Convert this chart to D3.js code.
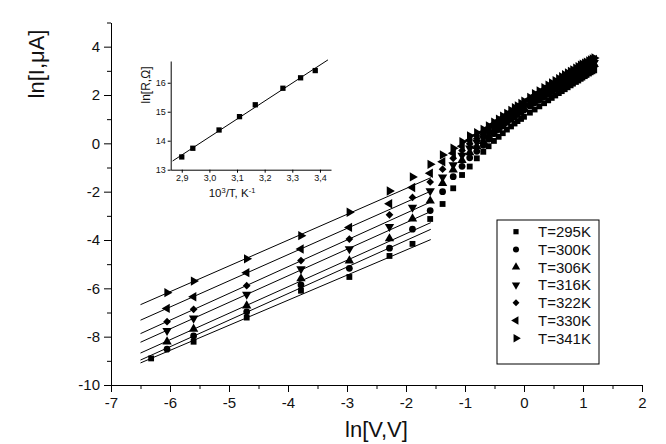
<!DOCTYPE html>
<html>
<head>
<meta charset="utf-8">
<script src="https://cdn.jsdelivr.net/npm/d3@7"></script>
<style>
  body { margin: 0; background: #fff; }
  text { font-family: Arial, "Liberation Sans", sans-serif; fill: #111; }
</style>
</head>
<body>
<svg id="chart" width="666" height="444"></svg>
<script>
// ln V grid shared by all temperature series
const lnV = [-6.32, -6.05, -5.6, -4.7, -3.78, -2.96, -2.28, -1.89, -1.59, -1.38, -1.2, -1.05, -0.92, -0.8,
  -0.69, -0.6, -0.51, -0.43, -0.36, -0.29, -0.22, -0.16, -0.11, -0.05,
  0, 0.1, 0.18, 0.26, 0.34, 0.41, 0.47, 0.53, 0.59, 0.64, 0.69, 0.74,
  0.79, 0.83, 0.88, 0.92, 0.96, 0.99, 1.03, 1.06, 1.1, 1.13, 1.16, 1.19];

const seriesNames = ["T=295K", "T=300K", "T=306K", "T=316K", "T=322K", "T=330K", "T=341K"];

const lnI295 = [-8.9, null, -8.21, -7.21, -6.1, -5.53, -4.66, -4.16, -3.13, -2.51, -1.86, -1.31, -0.96, -0.62,
  -0.35, -0.12, 0.1, 0.27, 0.42, 0.57, 0.7, 0.82, 0.92, 1.01,
  1.1, 1.27, 1.4, 1.53, 1.66, 1.78, 1.88, 1.98, 2.08, 2.16, 2.24, 2.32,
  2.4, 2.47, 2.54, 2.6, 2.67, 2.72, 2.78, 2.83, 2.89, 2.94, 2.98, 3.02];
const lnI300 = [null, -8.52, -7.97, -6.97, -5.86, -5.17, -4.34, -3.55, -2.78, -2.0, -1.38, -0.95, -0.6, -0.33,
  -0.08, 0.17, 0.4, 0.57, 0.72, 0.87, 1.0, 1.11, 1.2, 1.29,
  1.38, 1.55, 1.68, 1.8, 1.93, 2.04, 2.14, 2.23, 2.32, 2.4, 2.48, 2.55,
  2.62, 2.68, 2.75, 2.81, 2.87, 2.92, 2.97, 3.02, 3.08, 3.12, 3.16, 3.2];
const lnI306 = [null, -8.21, -7.68, -6.72, -5.6, -4.86, -3.94, -3.12, -2.38, -1.65, -1.1, -0.7, -0.38, -0.12,
  0.08, 0.31, 0.52, 0.68, 0.82, 0.96, 1.08, 1.19, 1.28, 1.37,
  1.46, 1.63, 1.76, 1.88, 2.01, 2.12, 2.22, 2.31, 2.4, 2.48, 2.56, 2.63,
  2.7, 2.76, 2.83, 2.89, 2.95, 2.99, 3.04, 3.09, 3.15, 3.19, 3.23, 3.27];
const lnI316 = [null, -7.75, -7.24, -6.25, -5.2, -4.37, -3.45, -2.65, -1.97, -1.4, -0.89, -0.5, -0.2, 0.05,
  0.22, 0.43, 0.63, 0.78, 0.92, 1.05, 1.17, 1.28, 1.37, 1.46,
  1.55, 1.71, 1.84, 1.96, 2.09, 2.2, 2.3, 2.39, 2.48, 2.56, 2.64, 2.71,
  2.78, 2.84, 2.91, 2.97, 3.02, 3.06, 3.11, 3.16, 3.22, 3.26, 3.3, 3.34];
const lnI322 = [null, -7.38, -6.87, -5.89, -4.85, -3.96, -2.96, -2.24, -1.6, -1.07, -0.62, -0.3, -0.02, 0.2,
  0.36, 0.54, 0.72, 0.86, 1.0, 1.13, 1.25, 1.36, 1.45, 1.54,
  1.63, 1.79, 1.92, 2.04, 2.16, 2.27, 2.37, 2.46, 2.55, 2.63, 2.71, 2.78,
  2.85, 2.91, 2.98, 3.04, 3.09, 3.13, 3.18, 3.23, 3.29, 3.33, 3.37, 3.41];
const lnI330 = [null, -6.83, -6.35, -5.35, -4.37, -3.48, -2.5, -1.83, -1.24, -0.76, -0.41, -0.12, 0.13, 0.33,
  0.47, 0.64, 0.8, 0.94, 1.06, 1.18, 1.3, 1.41, 1.5, 1.59,
  1.68, 1.84, 1.98, 2.1, 2.23, 2.34, 2.43, 2.52, 2.61, 2.69, 2.77, 2.84,
  2.91, 2.97, 3.04, 3.1, 3.16, 3.2, 3.25, 3.29, 3.35, 3.39, 3.43, 3.47];
const lnI341 = [null, -6.18, -5.7, -4.78, -3.82, -2.85, -1.97, -1.39, -0.87, -0.48, -0.2, 0.07, 0.31, 0.44,
  0.57, 0.72, 0.87, 1.0, 1.12, 1.24, 1.36, 1.47, 1.55, 1.65,
  1.74, 1.9, 2.05, 2.17, 2.3, 2.41, 2.5, 2.59, 2.68, 2.76, 2.84, 2.91,
  2.98, 3.04, 3.11, 3.17, 3.23, 3.27, 3.32, 3.36, 3.41, 3.45, 3.49, 3.53];

// the first points of each series are the ohmic part fitted by straight lines
const ohmicCount = 6;
const fitRange = [-6.5, -1.58];

const xTickValues = [-7, -6, -5, -4, -3, -2, -1, 0, 1, 2];
const xMinorValues = [-6.5, -5.5, -4.5, -3.5, -2.5, -1.5, -0.5, 0.5, 1.5];
const yTickValues = [-10, -8, -6, -4, -2, 0, 2, 4];
const yMinorValues = [-9, -7, -5, -3, -1, 1, 3, 5];

// inset: resistance vs inverse temperature
const insetInvT = [2.90, 2.94, 3.035, 3.109, 3.166, 3.266, 3.33, 3.383];
const insetLnR = [13.44, 13.74, 14.37, 14.83, 15.24, 15.81, 16.17, 16.42];
const insetXTicks = [2.9, 3.0, 3.1, 3.2, 3.3, 3.4];
const insetYTicks = [13, 14, 15, 16];
const insetFitRange = [2.867, 3.429];

const svg = d3.select("#chart");

const x = d3.scaleLinear().domain([-7, 2]).range([111, 642]);
const y = d3.scaleLinear().domain([-10, 5]).range([385, 22.5]);

function styleAxis(g) {
  g.select(".domain").attr("stroke", "#000").attr("stroke-width", 1);
  g.selectAll(".tick line").attr("stroke", "#000").attr("stroke-width", 1);
}

const fmt = d => String(d);
const FONT = "Arial, 'Liberation Sans', sans-serif";

// main x axis
const gx = svg.append("g").attr("transform", `translate(0,${y(-10)})`);
gx.call(d3.axisBottom(x).tickValues(xTickValues).tickFormat(fmt).tickSize(7).tickSizeOuter(0).tickPadding(5));
gx.selectAll(".tick text").attr("font-size", 15).attr("font-family", FONT).attr("fill", "#111");
styleAxis(gx);
const gxm = svg.append("g").attr("transform", `translate(0,${y(-10)})`);
gxm.call(d3.axisBottom(x).tickValues(xMinorValues).tickFormat("").tickSize(4).tickSizeOuter(0));
gxm.select(".domain").remove();
styleAxis(gxm);

// main y axis
const gy = svg.append("g").attr("transform", `translate(${x(-7)},0)`);
gy.call(d3.axisLeft(y).tickValues(yTickValues).tickFormat(fmt).tickSize(7).tickSizeOuter(0).tickPadding(4));
gy.selectAll(".tick text").attr("font-size", 15).attr("font-family", FONT).attr("fill", "#111");
styleAxis(gy);
const gym = svg.append("g").attr("transform", `translate(${x(-7)},0)`);
gym.call(d3.axisLeft(y).tickValues(yMinorValues).tickFormat("").tickSize(4).tickSizeOuter(0));
gym.select(".domain").remove();
styleAxis(gym);

// axis titles
svg.append("text").attr("x", (x(-7) + x(2)) / 2).attr("y", 437)
  .attr("text-anchor", "middle").attr("font-size", 22).text("ln[V,V]");
svg.append("text").attr("transform", `translate(44,64) rotate(-90)`)
  .attr("text-anchor", "middle").attr("font-size", 22).text("ln[I,\u03BCA]");

// series definitions; the diamond is a square turned by 45 degrees
const series = [lnI295, lnI300, lnI306, lnI316, lnI322, lnI330, lnI341];
const symbols = [
  { type: d3.symbolSquare, size: 34, rot: 0 },
  { type: d3.symbolCircle, size: 36, rot: 0 },
  { type: d3.symbolTriangle, size: 38, rot: 0 },
  { type: d3.symbolTriangle, size: 38, rot: 180 },
  { type: d3.symbolSquare, size: 30, rot: 45 },
  { type: d3.symbolTriangle, size: 38, rot: -90 },
  { type: d3.symbolTriangle, size: 38, rot: 90 }
];

// least-squares line through paired values
function linFit(xs, ys) {
  const mx = d3.mean(xs), my = d3.mean(ys);
  let sxy = 0, sxx = 0;
  xs.forEach((v, i) => { sxy += (v - mx) * (ys[i] - my); sxx += (v - mx) * (v - mx); });
  const b = sxy / sxx;
  return { slope: b, intercept: my - b * mx };
}

const lineGen = d3.line().x(d => x(d[0])).y(d => y(d[1]));

// fitted ohmic lines
series.forEach(vals => {
  const pts = lnV.slice(0, ohmicCount).map((v, i) => [v, vals[i]]).filter(p => p[1] != null);
  const f = linFit(pts.map(p => p[0]), pts.map(p => p[1]));
  svg.append("path")
    .attr("d", lineGen(fitRange.map(v => [v, f.slope * v + f.intercept])))
    .attr("fill", "none").attr("stroke", "#000").attr("stroke-width", 1);
});

// markers
series.forEach((vals, si) => {
  const sym = symbols[si];
  const pts = lnV.map((v, i) => [v, vals[i]]).filter(p => p[1] != null);
  svg.append("g").selectAll("path").data(pts).join("path")
    .attr("d", d3.symbol().type(sym.type).size(sym.size))
    .attr("transform", d => `translate(${x(d[0])},${y(d[1])}) rotate(${sym.rot})`)
    .attr("fill", "#000");
});

// legend
const legend = svg.append("g");
legend.append("rect").attr("x", 497).attr("y", 220).attr("width", 102).attr("height", 144)
  .attr("fill", "#fff").attr("stroke", "#000").attr("stroke-width", 1);
seriesNames.forEach((name, i) => {
  const cy = 231.7 + i * 17.75;
  const sym = symbols[i];
  legend.append("path").attr("d", d3.symbol().type(sym.type).size(sym.size * 0.8))
    .attr("transform", `translate(516,${cy}) rotate(${sym.rot})`).attr("fill", "#000");
  legend.append("text").attr("x", 538).attr("y", cy).attr("dy", "0.36em")
    .attr("font-size", 15).text(name);
});

// inset
const xi = d3.scaleLinear().domain([2.86, 3.44]).range([170.7, 331]);
const yi = d3.scaleLinear().domain([13, 16.75]).range([169.7, 61]);
const commaFmt = d => d3.format(".1f")(d).replace(".", ",");

const gxi = svg.append("g").attr("transform", `translate(0,${yi(13)})`);
gxi.call(d3.axisBottom(xi).tickValues(insetXTicks).tickFormat(commaFmt).tickSize(3).tickSizeOuter(0).tickPadding(2));
gxi.selectAll(".tick text").attr("font-size", 9).attr("font-family", FONT).attr("fill", "#333");
styleAxis(gxi);

const gyi = svg.append("g").attr("transform", `translate(${xi(2.86)},0)`);
gyi.call(d3.axisLeft(yi).tickValues(insetYTicks).tickFormat(fmt).tickSize(3).tickSizeOuter(0).tickPadding(2));
gyi.selectAll(".tick text").attr("font-size", 9).attr("font-family", FONT).attr("fill", "#333");
styleAxis(gyi);

const fi = linFit(insetInvT, insetLnR);
svg.append("path")
  .attr("d", d3.line().x(d => xi(d[0])).y(d => yi(d[1]))(insetFitRange.map(v => [v, fi.slope * v + fi.intercept])))
  .attr("fill", "none").attr("stroke", "#000").attr("stroke-width", 1);

svg.append("g").selectAll("path").data(insetInvT.map((v, i) => [v, insetLnR[i]])).join("path")
  .attr("d", d3.symbol().type(d3.symbolSquare).size(28))
  .attr("transform", d => `translate(${xi(d[0])},${yi(d[1])})`)
  .attr("fill", "#000");

const xt = svg.append("text").attr("x", 232).attr("y", 197).attr("text-anchor", "middle")
  .attr("font-size", 11.5).attr("fill", "#333");
xt.append("tspan").text("10");
xt.append("tspan").attr("dy", -4).attr("font-size", 7.5).text("3");
xt.append("tspan").attr("dy", 4).text("/T, K");
xt.append("tspan").attr("dy", -4).attr("font-size", 7.5).text("-1");

svg.append("text").attr("transform", `translate(150,85) rotate(-90)`)
  .attr("text-anchor", "middle").attr("font-size", 12).attr("fill", "#333").text("ln[R,\u03A9]");
</script>
</body>
</html>
